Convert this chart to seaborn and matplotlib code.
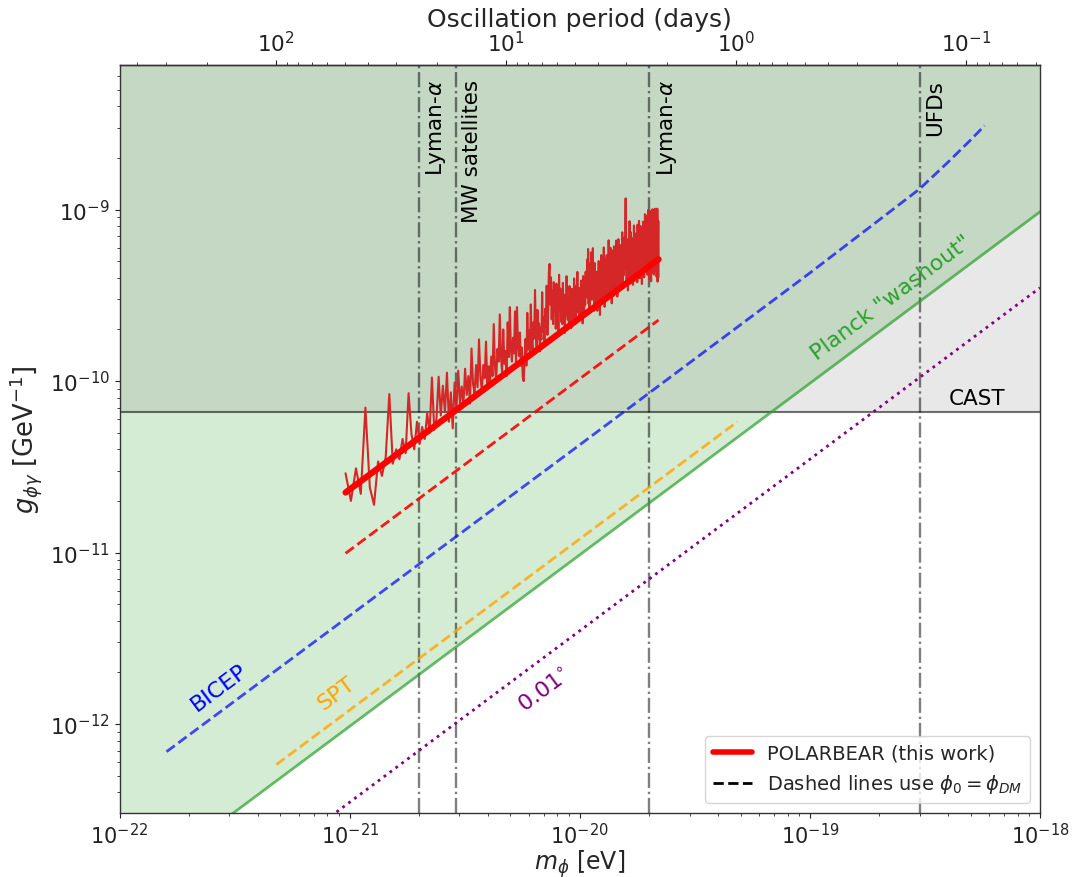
import numpy as np
import matplotlib
matplotlib.use("Agg")
import matplotlib.pyplot as plt
import seaborn as sns
from matplotlib.lines import Line2D
from matplotlib.ticker import NullFormatter

# ---------------------------------------------------------------- data
# axis ranges
mass_lim = [1e-22, 1e-18]          # eV
coupling_lim = [3.03e-13, 7.0e-9]  # GeV^-1

# astrophysical mass bounds (vertical dash-dot lines)
bound_names = ["Lyman-$\\alpha$", "MW satellites", "Lyman-$\\alpha$", "UFDs"]
bound_mass = [2.0e-21, 2.9e-21, 2.0e-20, 3.0e-19]

# CAST helioscope limit
cast_g = 6.6e-11

# Planck "washout" limit (straight line in log-log)
planck_mass = [1e-22, 1e-18]
planck_g = [9.7e-14, 9.7e-10]

# 0.01 degree rotation line
deg001_mass = [1e-22, 1e-18]
deg001_g = [3.5e-14, 3.5e-10]

# SPT (dashed)
spt_mass = [4.8e-22, 4.85e-20]
spt_g = [5.8e-13, 5.8e-11]

# BICEP (dashed), bends upward at the high-mass end
bicep_mass = [1.6e-22, 1e-20, 1e-19, 2e-19, 3e-19, 4e-19, 5e-19, 5.75e-19]
bicep_g = [6.9e-13, 4.25e-11, 4.27e-10, 8.7e-10, 1.32e-9, 1.9e-9, 2.55e-9, 3.09e-9]

# POLARBEAR: frequency grid edges, fitted limit and phi_DM limit
pb_mass_range = [9.6e-22, 2.2e-20]
pb_fit_g = [2.24e-11, 5.13e-10]
pb_dm_g = [9.9e-12, 2.27e-10]

# POLARBEAR per-frequency limit, in units of 1e-11 GeV^-1
pb_g_low = [2.9, 2.0, 3.1, 2.2, 7.0, 2.4, 1.9, 3.4, 2.8, 3.6,
            8.4, 3.3, 4.0, 3.5, 4.6, 3.8, 8.5, 4.9, 4.0, 5.8,
            4.3, 5.4, 4.6, 6.5, 5.0, 10.5, 5.2, 6.0, 10.6, 6.3,
            9.4, 6.6, 11.2, 5.8, 8.6, 5.3, 9.8, 6.9, 11.5, 7.4,
            9.3, 7.3, 11.8, 8.3, 10.7, 7.4, 15.5, 9.6, 8.5, 12.4,
            9.2, 17.5, 10.4, 8.8, 12.4, 10.4, 17.0, 9.7, 12.2, 9.5,
            13.9, 10.7, 21.5, 12.0, 10.1, 15.4, 13.0, 24.5, 13.8, 11.3,
            20.0, 12.6, 15.0, 10.7, 22.0, 13.8, 27.0, 15.2, 13.0, 17.9]
pb_g_mid = [14.5, 25.5, 12.9, 27.0, 16.3, 14.0, 19.2, 12.3, 15.7, 10.6,
            10.0, 13.4, 17.6, 12.3, 25.0, 15.3, 19.7, 14.2, 28.0, 17.3,
            15.3, 22.0, 17.7, 34.0, 19.5, 15.2, 26.0, 17.7, 21.7, 14.9,
            20.5, 17.5, 33.0, 19.4, 23.6, 16.4, 26.4, 20.8, 36.0, 18.6,
            25.5, 42.8, 48.2, 27.8, 40.3, 22.9, 33.6, 21.5, 37.8, 25.3,
            31.0, 20.2, 37.0, 24.2, 28.1, 18.9, 41.7, 26.7, 34.6, 22.2,
            29.2, 21.5, 37.4, 24.8, 31.9, 19.1, 28.3, 24.4, 40.9, 26.7,
            22.8, 31.2, 20.9, 35.8, 25.4, 29.8, 20.4, 34.5, 24.9, 29.4,
            23.0, 39.7, 26.6, 32.3, 22.4, 36.1, 29.5, 43.3, 25.2, 32.2,
            23.2, 34.9]
pb_g_high = [31.3, 22.9, 38.6, 26.5, 33.7, 21.7, 41.0, 28.9, 24.1, 36.2, 27.7, 43.4,
             30.7, 37.1, 51.2, 33.3, 58.9, 28.2, 41.0, 25.6, 48.6, 32.0, 56.3, 34.6,
             29.8, 46.1, 59.6, 32.5, 40.7, 25.7, 48.8, 35.2, 27.1, 43.4, 31.2, 37.9,
             25.7, 42.9, 34.3, 50.1, 28.6, 38.6, 24.3, 45.8, 31.5, 54.3, 35.8, 41.5,
             30.1, 46.7, 34.6, 60.2, 39.1, 27.1, 51.2, 36.1, 43.6, 31.6, 54.2, 39.1,
             29.9, 47.3, 34.7, 66.2, 42.5, 31.5, 52.0, 37.8, 59.9, 33.1, 44.1, 28.4,
             42.9, 57.8, 36.3, 49.5, 31.4, 61.1, 39.6, 46.2, 33.0, 52.8, 38.0, 66.0,
             43.1, 50.0, 31.1, 58.7, 38.0, 67.3, 44.9, 34.5, 53.5, 41.4, 62.1, 36.2,
             50.4, 34.2, 57.6, 43.2, 73.8, 46.8, 37.8, 61.2, 41.4, 54.0, 68.4, 45.0,
             60.0, 90.0, 116.3, 75.0, 50.6, 37.5, 63.8, 45.0, 56.3, 33.8, 67.5, 46.9,
             56.4, 40.8, 85.6, 50.6, 62.2, 37.0, 73.9, 46.7, 54.5, 38.9, 68.1, 44.7,
             60.6, 36.4, 66.7, 50.5, 80.8, 44.4, 56.6, 38.4, 72.7, 48.5, 62.6, 40.4,
             71.2, 48.2, 60.8, 37.7, 81.7, 54.5, 44.0, 67.0, 50.3, 85.9, 56.6, 39.8,
             65.0, 47.6, 80.1, 54.1, 43.3, 71.4, 60.6, 36.8, 75.8, 52.0, 65.0, 45.5,
             85.1, 58.2, 69.4, 40.3, 76.2, 51.5, 94.1, 60.5, 44.8, 71.7, 56.0, 80.6,
             50.9, 67.1, 92.6, 41.7, 78.7, 60.2, 99.5, 48.6, 69.5, 55.6, 88.0, 39.4,
             76.5, 59.8, 98.0, 47.8, 66.9, 38.2, 88.4, 55.0, 74.1, 43.0, 100.4, 62.1,
             51.7, 83.6, 59.0, 95.9, 41.8, 73.8, 54.1, 100.9, 64.0, 44.3, 78.7, 49.2,
             101.2, 60.7, 73.4, 40.5, 96.1, 55.7, 101.2, 38.0, 75.9, 53.1, 86.0, 40.5]

# tick positions
x_major = [1e-22, 1e-21, 1e-20, 1e-19, 1e-18]
y_major = [1e-12, 1e-11, 1e-10, 1e-9]
period_major = [1e2, 1e1, 1e0, 1e-1]

# Planck constant in eV s, for the oscillation period axis
H_EVS = 4.135667e-15
SECONDS_PER_DAY = 86400.0

# ---------------------------------------------------------------- style
sns.set_theme(style="ticks")
plt.rcParams["font.family"] = ["DejaVu Sans"]
plt.rcParams["mathtext.fontset"] = "dejavusans"
plt.rcParams.update({
    "axes.edgecolor": "#333333",
    "axes.linewidth": 1.0,
    "xtick.color": "#222222",
    "ytick.color": "#222222",
    "xtick.major.size": 3.5, "ytick.major.size": 3.5,
    "xtick.minor.size": 2.0, "ytick.minor.size": 2.0,
    "xtick.major.width": 0.8, "ytick.major.width": 0.8,
    "xtick.minor.width": 0.6, "ytick.minor.width": 0.6,
    "xtick.direction": "out", "ytick.direction": "out",
})

fig = plt.figure(figsize=(10.75, 8.78), dpi=100)
ax = fig.add_axes([0.1112, 0.0729, 0.8562, 0.8523])
ax.set(xscale="log", yscale="log")

# excluded regions
ax.fill_between(planck_mass, planck_g, [1e-6, 1e-6],
                color="tab:green", alpha=0.2, lw=0, zorder=0)
ax.fill_between(mass_lim, [cast_g, cast_g], [1e-6, 1e-6],
                color="gray", alpha=0.18, lw=0, zorder=0)
ax.axhline(cast_g, color="black", alpha=0.55, lw=1.5, zorder=1)

# mass bounds
for m in bound_mass:
    ax.axvline(m, color="black", alpha=0.5, lw=1.7, ls="-.", zorder=1)
for name, m in zip(bound_names, bound_mass):
    ax.annotate(name, xy=(m, 5.8e-9), xytext=(4, 0), textcoords="offset points",
                rotation=90, ha="left", va="top", fontsize=15.5, color="black")

# limit lines
sns.lineplot(x=planck_mass, y=planck_g, ax=ax, color="tab:green", alpha=0.7,
             lw=2, estimator=None, zorder=2)
sns.lineplot(x=deg001_mass, y=deg001_g, ax=ax, color="purple", lw=2,
             linestyle=":", estimator=None, zorder=2)
sns.lineplot(x=spt_mass, y=spt_g, ax=ax, color="orange", alpha=0.8, lw=2,
             linestyle="--", estimator=None, zorder=2)
sns.lineplot(x=bicep_mass, y=bicep_g, ax=ax, color="blue", alpha=0.7, lw=2,
             linestyle="--", estimator=None, zorder=2)

# POLARBEAR
pb_g = np.concatenate([pb_g_low, pb_g_mid, pb_g_high]) * 1e-11
pb_mass = np.linspace(pb_mass_range[0], pb_mass_range[1], len(pb_g))
sns.lineplot(x=pb_mass, y=pb_g, ax=ax, color="tab:red", lw=1.5,
             estimator=None, sort=False, zorder=3)
sns.lineplot(x=pb_mass_range, y=pb_fit_g, ax=ax, color="red", lw=4.5,
             estimator=None, zorder=4)
sns.lineplot(x=pb_mass_range, y=pb_dm_g, ax=ax, color="red", alpha=0.9, lw=2,
             linestyle="--", estimator=None, zorder=3)

# line labels
rot = 36.7
ax.text(2.25e-19, 3.1e-10, 'Planck "washout"', color="tab:green", fontsize=16,
        rotation=rot, rotation_mode="anchor", ha="center", va="center")
ax.text(2.72e-22, 1.64e-12, "BICEP", color="blue", fontsize=16,
        rotation=rot, rotation_mode="anchor", ha="center", va="center")
ax.text(8.75e-22, 1.52e-12, "SPT", color="orange", fontsize=16,
        rotation=rot, rotation_mode="anchor", ha="center", va="center")
ax.text(7.0e-21, 1.6e-12, "$0.01^{\\circ}$", color="purple", fontsize=16,
        rotation=rot, rotation_mode="anchor", ha="center", va="center")
ax.text(7.05e-19, 7.4e-11, "CAST", color="black", fontsize=15.5,
        ha="right", va="baseline")

# axes labels and ticks
ax.set_xticks(x_major)
ax.set_yticks(y_major)
ax.set_xticks([k * d for d in x_major[:-1] for k in range(2, 10)], minor=True)
ax.set_yticks([k * d for d in [1e-13] + y_major for k in range(2, 10)
               if coupling_lim[0] <= k * d <= coupling_lim[1]], minor=True)
ax.xaxis.set_minor_formatter(NullFormatter())
ax.yaxis.set_minor_formatter(NullFormatter())
ax.set_xlabel("$m_\\phi$ [eV]", fontsize=17, labelpad=0)
ax.set_ylabel("$g_{\\phi\\gamma}$ [GeV$^{-1}$]", fontsize=18.5, labelpad=4)
ax.tick_params(axis="x", which="major", labelsize=15, pad=3)
ax.tick_params(axis="y", which="major", labelsize=15.5)
ax.set_xlim(*mass_lim)
ax.set_ylim(*coupling_lim)
for side in ("top", "right"):
    ax.spines[side].set_visible(True)


def mass_to_period(x):
    x = np.asarray(x, dtype=float)
    with np.errstate(divide="ignore", invalid="ignore"):
        return H_EVS / x / SECONDS_PER_DAY


period_lim = sorted(mass_to_period(mass_lim))
sec = ax.secondary_xaxis("top", functions=(mass_to_period, mass_to_period))
sec.set_xticks(period_major)
sec.set_xticks([k * d for d in [1e-2, 1e-1, 1e0, 1e1, 1e2] for k in range(2, 10)
                if period_lim[0] <= k * d <= period_lim[1]], minor=True)
sec.xaxis.set_minor_formatter(NullFormatter())
sec.set_xlabel("Oscillation period (days)", fontsize=18, labelpad=3)
sec.tick_params(axis="x", which="major", labelsize=15.5)

# legend
handles = [Line2D([0], [0], color="red", lw=4),
           Line2D([0], [0], color="black", lw=2, ls="--")]
labels = ["POLARBEAR (this work)", "Dashed lines use $\\phi_0 = \\phi_{DM}$"]
leg = ax.legend(handles, labels, loc="lower right", fontsize=14,
                frameon=True, fancybox=True, framealpha=0.8)
leg.get_frame().set_edgecolor("#cccccc")

fig.savefig("out.png", dpi=100)
